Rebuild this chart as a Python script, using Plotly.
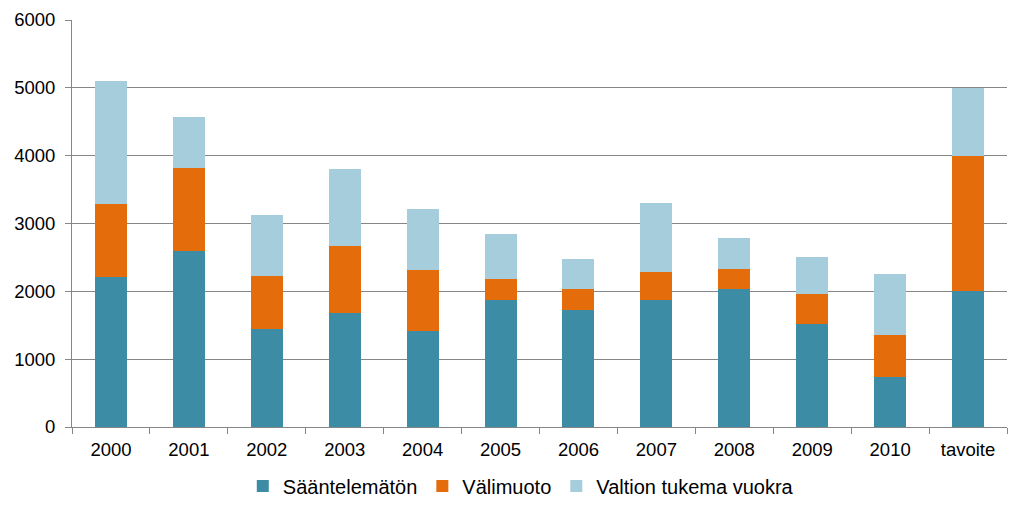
import plotly.graph_objects as go

# categories and values
vuodet = ["2000", "2001", "2002", "2003", "2004", "2005", "2006", "2007", "2008", "2009", "2010", "tavoite"]
saantelematon = [2210, 2600, 1445, 1675, 1420, 1870, 1720, 1870, 2035, 1515, 740, 2000]
valimuoto = [1080, 1225, 780, 1000, 890, 310, 310, 415, 295, 450, 610, 2000]
valtion_tukema = [1810, 745, 900, 1130, 910, 665, 450, 1020, 455, 535, 900, 1000]

fig = go.Figure()
fig.add_trace(go.Bar(x=vuodet, y=saantelematon, name="Sääntelemätön",
                     marker=dict(color="#3D8CA6", line_width=0)))
fig.add_trace(go.Bar(x=vuodet, y=valimuoto, name="Välimuoto",
                     marker=dict(color="#E46C0A", line_width=0)))
fig.add_trace(go.Bar(x=vuodet, y=valtion_tukema, name="Valtion tukema vuokra",
                     marker=dict(color="#A6CDDC", line_width=0)))

# page body has an 8px margin, so the margins are shifted by that
fig.update_layout(
    barmode="stack",
    bargap=0.59,
    width=1023, height=515,
    margin=dict(l=64, r=24, t=12, b=96),
    plot_bgcolor="white",
    paper_bgcolor="white",
    font=dict(family="Liberation Sans, Arial", size=18.5, color="black"),
    legend=dict(orientation="h", x=0.48, xanchor="center", y=-0.145, yanchor="middle",
                font=dict(size=20), traceorder="normal", itemwidth=30),
)
fig.update_xaxes(showline=True, linecolor="#868686", linewidth=1, ticks="outside",
                 tickson="boundaries", ticklen=6, tickcolor="#868686", showgrid=False,
                 automargin=False, ticklabelstandoff=6)
fig.update_yaxes(range=[0, 6000], dtick=1000, showline=True, linecolor="#868686", linewidth=1,
                 ticks="outside", ticklen=6, tickcolor="#868686", gridcolor="#868686",
                 gridwidth=1, zeroline=False, automargin=False, ticklabelstandoff=6)

fig.write_html("out.html")
